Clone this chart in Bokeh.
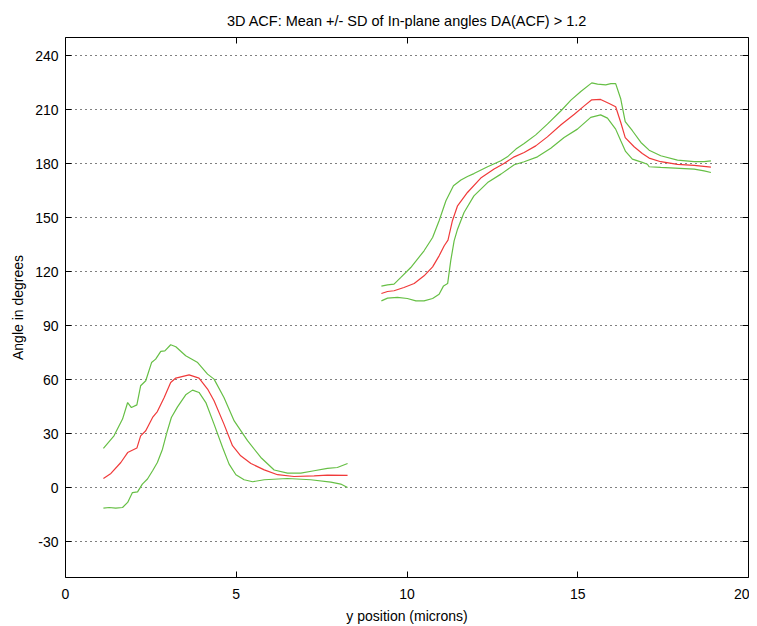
from bokeh.plotting import figure
from bokeh.models import LinearAxis, FixedTicker, Range1d
from bokeh.embed import file_html
from bokeh.resources import INLINE

# ---- data ----
title_text = "3D ACF: Mean +/- SD of In-plane angles DA(ACF) > 1.2"
x_label = "y position (microns)"
y_label = "Angle in degrees"
x_ticks = [0, 5, 10, 15, 20]
y_ticks = [-30, 0, 30, 60, 90, 120, 150, 180, 210, 240]
y_tick_labels = ["-30", "0", "30", "60", "90", "120", "150", "180", "210", "240"]

# segment 1
s1_up_x = [1.11, 1.42, 1.67, 1.82, 1.93, 2.09, 2.20, 2.35, 2.52, 2.64, 2.79, 2.91, 3.08, 3.23, 3.52, 3.87,
           4.16, 4.35, 4.64, 4.94, 5.33, 5.72, 6.11, 6.50, 6.89, 7.28, 7.67, 7.96, 8.26]
s1_up_y = [21.7, 28.7, 38.0, 47.2, 44.4, 45.9, 56.5, 59.3, 69.4, 71.3, 75.6, 75.9, 79.3, 78.2, 73.2, 69.4,
           63.0, 60.2, 50.0, 37.0, 26.0, 16.7, 9.7, 8.0, 8.0, 9.3, 10.6, 11.1, 13.3]
s1_mid_x = [1.11, 1.33, 1.62, 1.82, 2.09, 2.20, 2.35, 2.55, 2.69, 2.89, 3.08, 3.23, 3.62, 3.91, 4.16, 4.35,
            4.64, 4.89, 5.13, 5.43, 5.82, 6.21, 6.69, 7.28, 7.67, 8.26]
s1_mid_y = [5.0, 7.8, 13.9, 19.4, 21.9, 28.7, 31.5, 38.9, 42.2, 50.0, 58.3, 60.8, 62.6, 60.8, 54.7, 48.2,
            35.2, 23.2, 17.6, 13.3, 9.8, 7.1, 6.1, 6.5, 6.9, 6.7]
s1_lo_x = [1.11, 1.28, 1.47, 1.67, 1.82, 1.96, 2.11, 2.25, 2.40, 2.55, 2.69, 2.84, 2.97, 3.10, 3.28, 3.52,
           3.72, 3.91, 4.11, 4.35, 4.60, 4.79, 4.99, 5.23, 5.48, 5.82, 6.50, 7.18, 7.77, 8.06, 8.26]
s1_lo_y = [-11.5, -11.1, -11.5, -11.1, -8.3, -2.8, -2.4, 1.9, 4.7, 9.3, 13.9, 21.3, 30.6, 38.9, 44.8, 51.5,
           54.1, 52.8, 47.2, 35.2, 22.2, 13.0, 7.1, 4.3, 3.2, 4.3, 5.0, 4.3, 3.0, 1.9, 0.0]

# segment 2
s2_up_x = [9.25, 9.43, 9.62, 9.82, 10.11, 10.50, 10.75, 10.94, 11.14, 11.36, 11.58, 11.77, 11.96, 12.36,
           12.75, 12.94, 13.19, 13.43, 13.77, 14.11, 14.51, 14.80, 15.09, 15.41, 15.58, 15.82, 15.97, 16.11,
           16.26, 16.39, 16.60, 16.85, 17.09, 17.43, 17.92, 18.41, 18.70, 18.90]
s2_up_y = [111.9, 112.6, 113.0, 116.7, 122.2, 131.5, 138.9, 148.2, 159.3, 167.6, 170.8, 172.8, 174.4, 178.2,
           181.5, 183.7, 188.0, 191.1, 195.9, 201.9, 209.3, 215.2, 220.0, 224.8, 224.1, 223.7, 224.4, 224.4,
           215.8, 203.3, 198.2, 191.7, 187.4, 184.3, 181.9, 181.0, 181.0, 181.5]
s2_mid_x = [9.25, 9.43, 9.62, 9.91, 10.21, 10.50, 10.75, 10.94, 11.09, 11.20, 11.33, 11.48, 11.77, 12.16,
            12.55, 12.84, 13.14, 13.43, 13.77, 14.11, 14.51, 14.90, 15.19, 15.41, 15.67, 15.92, 16.11, 16.26,
            16.39, 16.65, 16.89, 17.09, 17.43, 17.92, 18.41, 18.90]
s2_mid_y = [107.8, 108.9, 109.3, 111.1, 113.3, 117.6, 122.6, 128.7, 134.3, 137.4, 148.2, 156.5, 163.9, 171.9,
            176.9, 180.0, 183.7, 186.1, 189.8, 194.8, 201.5, 207.4, 212.0, 215.4, 215.6, 213.3, 211.5, 202.8,
            194.4, 189.3, 185.6, 183.0, 181.0, 179.5, 179.0, 178.0]
s2_lo_x = [9.25, 9.43, 9.72, 10.01, 10.26, 10.50, 10.75, 10.94, 11.07, 11.19, 11.28, 11.38, 11.48, 11.67,
           11.96, 12.36, 12.75, 13.14, 13.43, 13.82, 14.21, 14.60, 14.99, 15.38, 15.67, 15.87, 16.11, 16.26,
           16.40, 16.60, 16.89, 17.04, 17.09, 17.43, 18.41, 18.70, 18.90]
s2_lo_y = [103.7, 105.2, 105.6, 105.0, 103.7, 103.7, 105.0, 107.4, 112.0, 113.3, 125.9, 137.0, 143.5, 152.8,
           162.0, 169.4, 174.1, 179.3, 181.0, 183.7, 188.5, 194.4, 199.1, 205.6, 207.0, 205.2, 199.1, 192.6,
           186.7, 182.4, 180.6, 179.6, 178.2, 177.8, 176.9, 175.9, 175.0]

FONT = "Liberation Sans"
GREEN = "#66bf45"
RED = "#f03a3a"

p = figure(width=749, height=626, output_backend="svg", toolbar_location=None,
           x_range=Range1d(0, 20), y_range=Range1d(-50, 250),
           min_border_left=65, min_border_right=1, min_border_top=37, min_border_bottom=49)

p.title.text = title_text
p.title.align = "center"
p.title.text_font = FONT
p.title.text_font_size = "14.5px"
p.title.text_font_style = "normal"
p.title.text_color = "black"
p.title.standoff = 17

for xs, ys, c in [(s1_up_x, s1_up_y, GREEN), (s1_lo_x, s1_lo_y, GREEN), (s1_mid_x, s1_mid_y, RED),
                  (s2_up_x, s2_up_y, GREEN), (s2_lo_x, s2_lo_y, GREEN), (s2_mid_x, s2_mid_y, RED)]:
    p.line(xs, ys, line_color=c, line_width=1.2)

p.outline_line_color = "black"
p.outline_line_width = 1
p.outline_line_alpha = 1

p.xgrid.visible = False
p.ygrid.ticker = FixedTicker(ticks=y_ticks)
p.ygrid.grid_line_color = "black"
p.ygrid.grid_line_dash = "1 4"
p.ygrid.grid_line_width = 1

def style(ax, ticks, labels=True):
    ax.ticker = FixedTicker(ticks=ticks)
    ax.axis_line_color = None
    ax.major_tick_in = 6
    ax.major_tick_out = 0
    ax.major_tick_line_color = "black"
    ax.minor_tick_line_color = None
    ax.major_label_text_font = FONT
    ax.major_label_text_font_size = "14px"
    ax.major_label_text_color = "black" if labels else None
    ax.axis_label_text_font = FONT
    ax.axis_label_text_font_size = "14px"
    ax.axis_label_text_font_style = "normal"
    ax.axis_label_text_color = "black"

style(p.xaxis[0], x_ticks)
p.xaxis[0].axis_label = x_label
p.xaxis[0].major_label_standoff = 11
p.xaxis[0].axis_label_standoff = 6
style(p.yaxis[0], y_ticks)
p.yaxis[0].axis_label = y_label
p.yaxis[0].major_label_standoff = 7
p.yaxis[0].axis_label_standoff = 6
p.yaxis[0].major_label_overrides = {t: lab for t, lab in zip(y_ticks, y_tick_labels)}

right = LinearAxis()
style(right, y_ticks, labels=False)
right.major_label_text_font_size = "0px"
right.major_label_standoff = 0
p.add_layout(right, "right")
top = LinearAxis()
style(top, x_ticks, labels=False)
top.major_label_text_font_size = "0px"
top.major_label_standoff = 0
p.add_layout(top, "above")

open("out.html", "w").write(file_html(p, INLINE))
